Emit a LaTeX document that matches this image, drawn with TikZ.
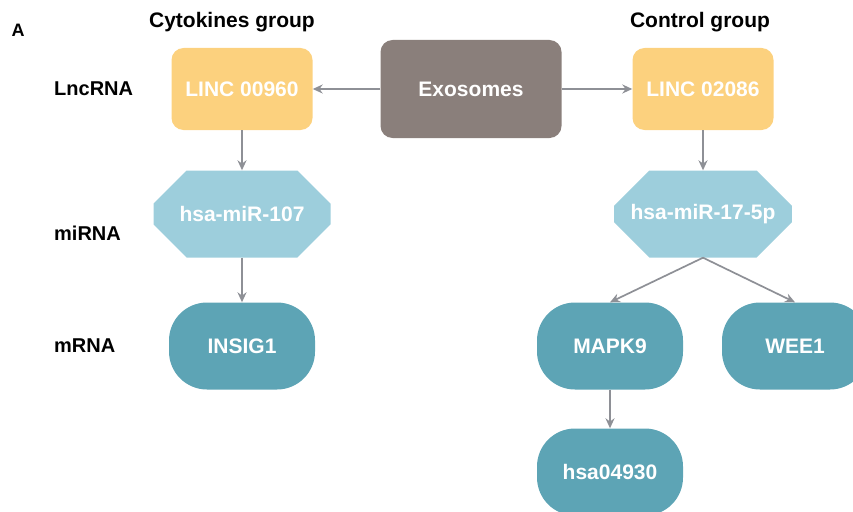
\documentclass[tikz,border=0pt]{standalone}
\usepackage{fontspec}
\setmainfont{Liberation Sans}
\usetikzlibrary{positioning,shapes.misc,arrows.meta}

\definecolor{lncfill}{HTML}{FCD17E}
\definecolor{exofill}{HTML}{8A7F7B}
\definecolor{mirfill}{HTML}{9DCEDC}
\definecolor{mrnafill}{HTML}{5DA4B5}
\definecolor{linkgray}{HTML}{8E9096}

\begin{document}
\begin{tikzpicture}[
    x=1pt, y=-1pt,
    box text/.style={
        text=white,
        font=\fontsize{21}{25}\selectfont\bfseries
    },
    lnc/.style={
        box text,
        rectangle,
        rounded corners=12pt,
        fill=lncfill,
        minimum width=141pt,
        minimum height=82pt
    },
    exo/.style={
        box text,
        rectangle,
        rounded corners=12pt,
        fill=exofill,
        minimum width=181pt,
        minimum height=98pt
    },
    mir/.style={
        box text,
        chamfered rectangle,
        chamfered rectangle xsep=22pt,
        chamfered rectangle ysep=22pt,
        fill=mirfill,
        minimum width=177pt,
        minimum height=87pt
    },
    mrna/.style={
        box text,
        rectangle,
        rounded corners=38pt,
        fill=mrnafill,
        minimum width=146pt,
        minimum height=87pt
    },
    row/.style={
        anchor=west,
        inner sep=0pt,
        font=\fontsize{20}{24}\selectfont\bfseries
    },
    group/.style={
        font=\fontsize{21}{25}\selectfont\bfseries
    },
    link/.style={
        draw=linkgray,
        line width=1.7pt,
        -{Stealth[length=10pt,width=9pt]}
    }
]
\clip (0,0) rectangle (853,511);

% Headings
\node [font=\fontsize{18}{20}\selectfont\bfseries] (panel) at (18,30) {A};
\node [group] (cyto) at (232,22) {Cytokines group};
\node [group] (ctrl) at (700,22) {Control group};

% Row labels
\node [row] (lbl-lnc) at (54,89) {LncRNA};
\node [row] (lbl-mir) at (54,233) {miRNA};
\node [row] (lbl-mrna) at (54,346) {mRNA};

% Exosomes and LncRNAs
\node [exo] (exo) at (471,89) {Exosomes};
\node [lnc] (lnc-1) at (242,89) {LINC 00960};
\node [lnc] (lnc-2) at (703,89) {LINC 02086};

% miRNAs
\node [mir] (mir-1) at (242,214) {hsa-miR-107};
\node [mir] (mir-2) at (703,214) {hsa-miR-17-5p};

% mRNAs
\node [mrna] (insig) at (242,346) {INSIG1};
\node [mrna] (mapk) at (610,346) {MAPK9};
\node [mrna] (wee) at (795,346) {WEE1};
\node [mrna] (kegg) at (610,472) {hsa04930};

% Draw the connections
\draw [link] (exo.west) -- (lnc-1.east);
\draw [link] (exo.east) -- (lnc-2.west);

\foreach \a/\b in {lnc-1/mir-1, mir-1/insig, lnc-2/mir-2, mapk/kegg}
    \draw [link] (\a.south) -- (\b.north);

\foreach \b in {mapk, wee}
    \draw [link] (mir-2.south) -- (\b.north);

\end{tikzpicture}
\end{document}
